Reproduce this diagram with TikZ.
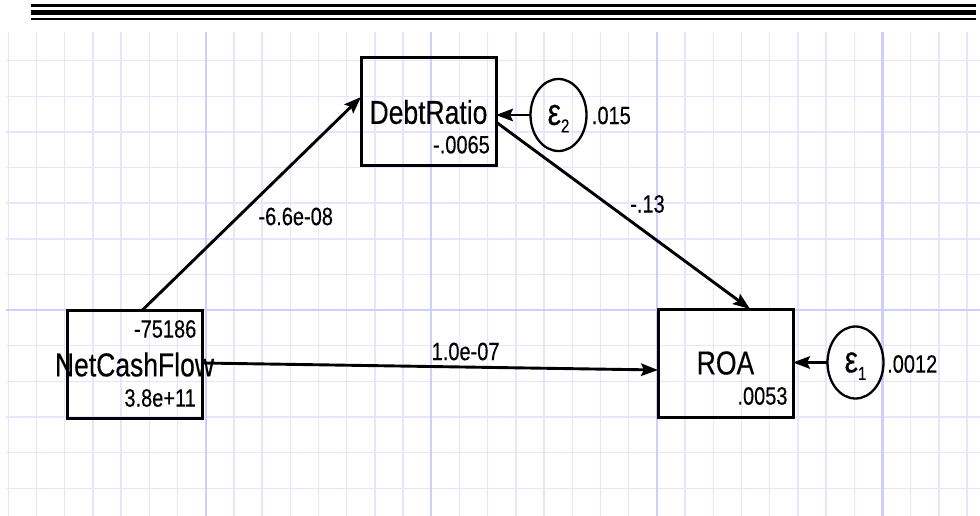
\documentclass[tikz,border=0pt]{standalone}
\usepackage{fontspec}
\setmainfont{Liberation Sans}[FakeBold=0.35]
\usetikzlibrary{arrows.meta,shapes.geometric,calc}
\newcommand{\vstretch}[1]{\scalebox{1}[1.25]{#1}}
\definecolor{gridminor}{RGB}{229,229,255}
\definecolor{gridmajor}{RGB}{206,206,252}
\begin{document}
\begin{tikzpicture}[x=1pt,y=-1pt,
  varbox/.style={draw, line width=3pt, minimum width=135pt, minimum height=108pt,
    inner sep=0pt, outer sep=0pt, font=\fontsize{26.5}{30}\selectfont},
  errc/.style={draw, ellipse, line width=2.3pt, minimum width=56pt, minimum height=72pt,
    inner sep=0pt, outer sep=0pt},
  lab/.style={font=\fontsize{20}{24}\selectfont, inner sep=0pt},
  conn/.style={line width=2.9pt, -{Stealth[length=17pt,width=12.5pt,inset=3pt]}},
  gminor/.style={draw=gridminor, line width=1.5pt},
  gmajor/.style={draw=gridmajor, line width=2.2pt},
  rule/.style={draw=black}
]
\useasboundingbox (0,0) rectangle (980,516);
\fill[white] (0,0) rectangle (980,516);

% grid
\foreach \k in {0,...,34}{
  \draw[gminor] ({8.3+28.2*\k},31.7) -- ({8.3+28.2*\k},516);
}
\foreach \k in {0,...,12}{
  \draw[gminor] (6,{60.7+35.63*\k}) -- (980,{60.7+35.63*\k});
}
\foreach \k in {7,15,23,31}{
  \draw[gmajor] ({8.3+28.2*\k},31.7) -- ({8.3+28.2*\k},516);
}
\draw[gmajor] (6,{60.7+35.63*7}) -- (980,{60.7+35.63*7});

% top rules
\draw[rule, line width=2.2pt] (30.7,5.6) -- (975.7,5.6);
\draw[rule, line width=5pt] (30.7,12.5) -- (975.7,12.5);
\draw[rule, line width=2.5pt] (30.7,19.2) -- (975.7,19.2);

% variables
\node[varbox] (ncf) at (134.5,364.5) {\makebox[0pt]{\vstretch{NetCashFlow}}};
\node[varbox] (dr) at (428.5,112) {\makebox[0pt]{\vstretch{DebtRatio}}};
\node[varbox] (roa) at (725.5,363) {\makebox[0pt]{\vstretch{ROA}}};

% error terms
\node[errc] (e2) at (558.5,115) {\vstretch{{\fontsize{30}{30}\selectfont ε}\raisebox{-6pt}[0pt][0pt]{\fontsize{15}{15}\selectfont 2}}};
\node[errc] (e1) at (855.5,362.5) {\vstretch{{\fontsize{30}{30}\selectfont ε}\raisebox{-6pt}[0pt][0pt]{\fontsize{15}{15}\selectfont 1}}};

% connectors
\draw[conn] ([xshift=7.5pt]ncf.north) -- ([yshift=15pt]dr.west);
\draw[conn] ([yshift=-10pt]dr.east) -- ([xshift=24.5pt]roa.north);
\draw[conn] ([yshift=1.5pt]ncf.east) -- ([yshift=-7pt]roa.west);
\draw[conn] (e1.west) -- (e1.west -| roa.east);
\draw[conn] (e2.west) -- (e2.west -| dr.east);

% labels
\node[lab, anchor=east] (ncfm) at (196.5,329) {\vstretch{-75186}};
\node[lab, anchor=east] (ncfv) at (196,398) {\vstretch{3.8e+11}};
\node[lab, anchor=east] (drm) at (490,144.7) {\vstretch{-.0065}};
\node[lab, anchor=east] (roam) at (787.7,396) {\vstretch{.0053}};
\node[lab, anchor=west] (e2v) at (591.7,115.5) {\vstretch{.015}};
\node[lab, anchor=west] (e1v) at (887,364) {\vstretch{.0012}};
\node[lab] (p1) at (295.7,216.5) {\vstretch{-6.6e-08}};
\node[lab] (p2) at (647.5,204) {\vstretch{-.13}};
\node[lab] (p3) at (465.6,351.5) {\vstretch{1.0e-07}};
\end{tikzpicture}
\end{document}
